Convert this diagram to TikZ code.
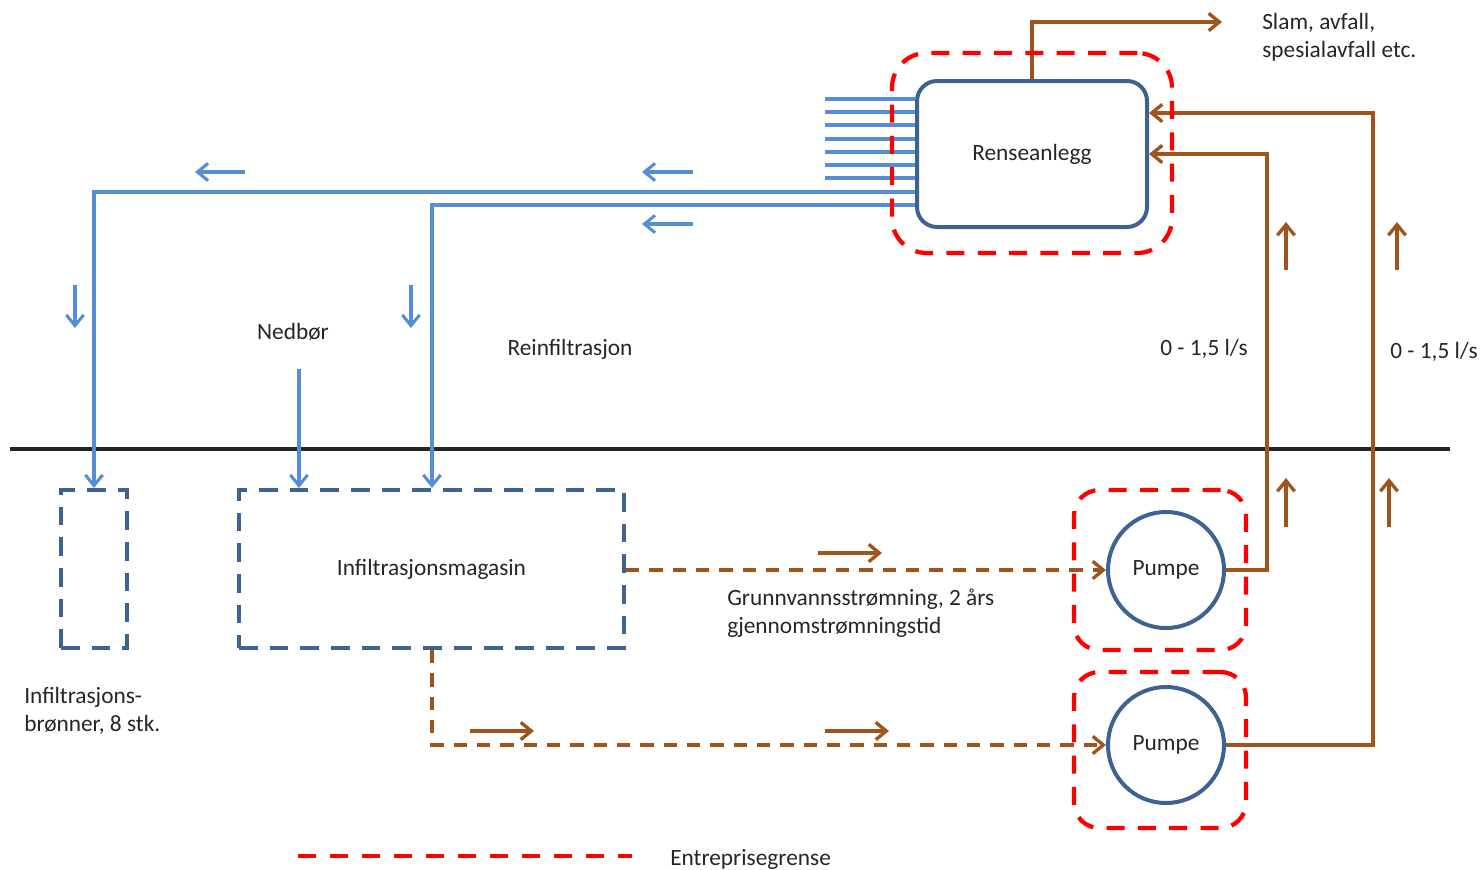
\documentclass[tikz,border=0pt]{standalone}
\usepackage{fontspec}
\setmainfont{Carlito}
\usetikzlibrary{arrows.meta}
\definecolor{dblue}{HTML}{3E6392}
\definecolor{lblue}{HTML}{558ED5}
\definecolor{brn}{HTML}{9E541A}
\definecolor{rd}{HTML}{FF0000}
\definecolor{txt}{HTML}{262626}
\begin{document}
\begin{tikzpicture}[x=0.75pt,y=-0.75pt,
  font=\fontsize{17.5}{21}\selectfont, text=txt,
  blueline/.style={draw=lblue, line width=2.3pt},
  brownline/.style={draw=brn, line width=2.5pt},
  browndash/.style={brownline, dash pattern=on 10pt off 7.5pt},
  tip/.style={-{Straight Barb[length=8pt,width=13pt]}},
  reddash/.style={draw=rd, line width=3.2pt, dash pattern=on 13.5pt off 10pt},
  bluedash/.style={draw=dblue, line width=3pt, dash pattern=on 14pt off 9pt},
  pumpe/.style={circle, draw=dblue, line width=3pt, minimum size=87pt, fill=white, inner sep=0pt},
  lbl/.style={inner sep=0pt, align=left}
]
\useasboundingbox (0,0) rectangle (1481,869);

% ground line
\coordinate (gl) at (10,449);
\coordinate (gr) at (1450,449);
\draw[line width=3pt, black!85] (gl) -- (gr);

% main nodes
\node[draw=dblue, line width=3pt, rounded corners=15pt, minimum width=172.5pt, minimum height=109.5pt, fill=white] (rense) at (1032,154) {Renseanlegg};
\node[pumpe] (p1) at (1166,570) {Pumpe};
\node[pumpe] (p2) at (1166,745) {Pumpe};
\node[bluedash, minimum width=288.75pt, minimum height=118.5pt] (mag) at (431.5,569) {Infiltrasjonsmagasin};
\node[bluedash, minimum width=49.5pt, minimum height=118.5pt] (bron) at (94,569) {};

% labels
\node[lbl, anchor=west] (slam) at (1262,37) {Slam, avfall,\\spesialavfall etc.};
\node[lbl] (ned) at (293,332) {Nedbør};
\node[lbl] (rein) at (570,349) {Reinfiltrasjon};
\node[lbl] (q1) at (1204,349) {0 - 1,5 l/s};
\node[lbl] (q2) at (1434,352) {0 - 1,5 l/s};
\node[lbl, anchor=west] (grunn) at (727,613.5) {Grunnvannsstrømning, 2 års\\gjennomstrømningstid};
\node[lbl, anchor=west] (brlbl) at (24,710.5) {Infiltrasjons-\\brønner, 8 stk.};
\node[lbl, anchor=west] (legend) at (670,859) {Entreprisegrense};

% blue pipes into Renseanlegg
\foreach \y in {99,112,125,139,152,165,178}
  \draw[blueline] (825,\y) -- (rense.west |- 0,\y);
\draw[blueline,tip] (rense.west |- 0,192) -- (94,192) -- (bron.north);
\draw[blueline,tip] (rense.west |- 0,205) -- (432,205) -- (432,0 |- mag.north);
\coordinate (nedstart) at (299,369);
\draw[blueline,tip] (nedstart) -- (nedstart |- mag.north);

% small blue arrows
\draw[blueline,tip] (245,172) -- (195,172);
\draw[blueline,tip] (693,172) -- (642,172);
\draw[blueline,tip] (693,224) -- (642,224);
\draw[blueline,tip] (75,285) -- (75,328);
\draw[blueline,tip] (411,285) -- (411,328);

% brown flows
\coordinate (slamend) at (1222,22);
\draw[brownline,tip] (rense.north) |- (slamend);
\draw[brownline,tip] (p1.east) -- (1267,570) -- (1267,154) -- (rense.east |- 0,154);
\draw[brownline,tip] (p2.east) -- (1373,745) -- (1373,113) -- (rense.east |- 0,113);
\draw[browndash,tip] (mag.east |- p1) -- (p1.west);
\draw[browndash,tip] (432,0 |- mag.south) -- (432,745) -- (p2.west);

% small brown arrows
\draw[brownline,tip] (1286,270) -- (1286,222);
\draw[brownline,tip] (1397,270) -- (1397,222);
\draw[brownline,tip] (1286,527) -- (1286,478);
\draw[brownline,tip] (1389,527) -- (1389,478);
\draw[brownline,tip] (818,553) -- (882,553);
\draw[brownline,tip] (470,731) -- (534,731);
\draw[brownline,tip] (825,731) -- (889,731);

% red boundaries
\node[reddash, rounded corners=26pt, minimum width=210pt, minimum height=150pt] (redR) at (1032,153) {};
\node[reddash, rounded corners=19pt, minimum width=129pt, minimum height=120pt] (redP1) at (1160,570) {};
\node[reddash, rounded corners=19pt, minimum width=129pt, minimum height=117pt] (redP2) at (1160,750) {};

% legend
\coordinate (lega) at (298,856);
\coordinate (legb) at (632,856);
\draw[rd, line width=3.2pt, dash pattern=on 13.5pt off 10.5pt] (lega) -- (legb);
\end{tikzpicture}
\end{document}
